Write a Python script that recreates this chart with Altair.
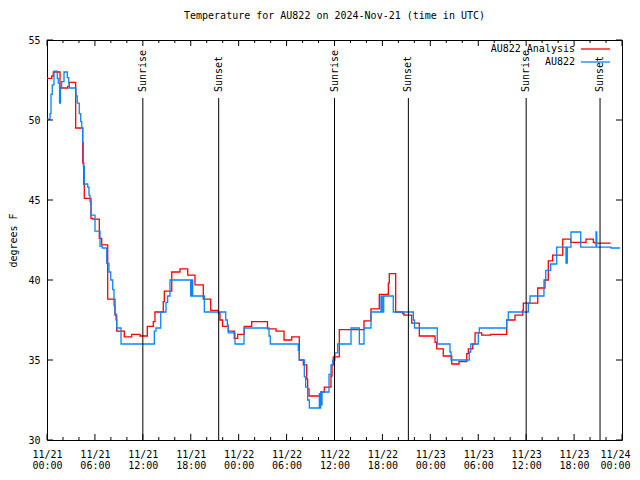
import altair as alt
import pandas as pd

# ---- data (hours since 2024-11-21 00:00 UTC, degrees F) ----
red_hours = [0.0, 0.59, 0.79, 1.63, 2.59, 2.79, 3.59, 4.47, 4.60, 4.67,
             5.51, 5.72, 6.55, 6.85, 7.60, 8.51, 8.73, 9.68, 10.61, 11.65,
             12.56, 13.31, 13.52, 14.56, 14.69, 15.62, 16.65, 17.62, 18.53, 19.57,
             20.50, 21.45, 21.66, 21.99, 22.70, 23.45, 23.88, 24.71, 25.63, 27.61,
             28.68, 29.68, 30.64, 31.59, 32.09, 32.52, 32.64, 32.81, 34.31, 34.72,
             35.56, 35.69, 35.85, 36.60, 39.69, 40.57, 41.61, 42.74, 42.86, 43.66,
             44.54, 44.70, 45.67, 46.62, 48.59, 48.80, 49.62, 50.68, 51.59, 52.56,
             52.76, 53.31, 53.60, 54.43, 55.56, 57.56, 58.60, 59.57, 59.64, 61.45,
             62.36, 62.77, 63.32, 64.58, 65.58, 67.49, 68.41, 68.62, 70.59]
red_temps = [52.6, 52.75, 53.0, 52.0, 52.1, 52.35, 49.5, 47.3, 46.0, 45.1,
             43.85, 43.8, 42.6, 42.2, 38.8, 37.8, 36.8, 36.45, 36.6, 36.5,
             37.1, 37.4, 38.0, 38.65, 39.3, 40.5, 40.7, 40.3, 39.7, 38.8,
             38.1, 37.95, 37.5, 37.1, 36.8, 36.35, 36.6, 37.1, 37.4, 36.95,
             36.8, 36.25, 36.45, 35.0, 34.7, 33.8, 33.2, 32.75, 33.0, 33.3,
             34.0, 34.7, 35.2, 36.9, 37.45, 38.2, 39.1, 39.8, 40.4, 38.0,
             37.9, 37.8, 37.3, 36.5, 36.1, 35.7, 35.25, 34.75, 34.9, 35.4,
             35.7, 36.0, 36.7, 36.55, 36.6, 37.5, 37.8, 38.1, 38.55, 39.5,
             40.0, 41.2, 41.55, 42.55, 42.35, 42.55, 42.35, 42.3, 42.3]

blue_hours = [0.0, 0.38, 0.50, 0.66, 0.88, 1.29, 1.41, 1.57, 1.69, 1.84,
              2.13, 2.54, 2.72, 2.79, 3.63, 3.79, 4.04, 4.22, 4.35, 4.47,
              4.55, 4.67, 5.10, 5.26, 5.38, 5.51, 6.01, 6.64, 6.92, 7.48,
              7.76, 7.98, 8.23, 8.39, 8.51, 8.64, 8.73, 9.27, 13.44, 13.65,
              14.24, 14.90, 15.11, 15.40, 17.99, 18.12, 18.24, 19.70, 22.38, 22.58,
              22.70, 23.54, 24.67, 27.80, 27.96, 31.47, 31.59, 32.22, 32.39, 32.64,
              32.85, 34.10, 34.18, 34.27, 34.35, 34.44, 35.31, 35.56, 35.78, 36.06,
              36.40, 38.07, 39.11, 39.69, 40.57, 41.82, 41.98, 42.16, 43.36, 45.87,
              46.02, 48.87, 50.46, 50.59, 52.88, 53.06, 54.01, 54.13, 57.56, 57.76,
              60.27, 60.48, 62.23, 62.45, 63.07, 63.82, 64.99, 65.15, 65.61, 66.83,
              68.75, 68.84, 70.62, 71.75]
blue_temps = [50.05, 50.4, 51.6, 52.2, 53.05, 52.6, 52.3, 51.05, 52.0, 52.4,
              53.0, 52.65, 52.3, 52.0, 51.5, 51.05, 50.4, 49.9, 49.5, 48.6,
              47.1, 46.0, 45.8, 45.3, 44.9, 44.05, 43.06, 42.1, 42.0, 41.04,
              40.5, 40.0, 39.4, 38.4, 37.9, 37.5, 37.0, 36.0, 36.8, 37.0,
              38.0, 38.6, 39.0, 40.0, 39.0, 40.0, 39.0, 38.0, 37.5, 37.2,
              36.7, 36.0, 37.0, 36.5, 36.0, 35.6, 35.0, 33.95, 33.3, 32.5,
              32.0, 32.9, 32.0, 33.0, 32.2, 33.0, 34.1, 34.7, 35.0, 35.45,
              36.0, 37.0, 36.0, 37.0, 38.0, 39.0, 38.0, 39.0, 38.0, 37.5,
              37.0, 36.0, 35.5, 35.0, 35.5, 36.0, 36.7, 37.0, 37.5, 38.0,
              38.55, 39.0, 40.0, 40.6, 41.0, 42.05, 41.05, 42.05, 43.0, 42.05,
              43.0, 42.05, 42.0, 42.0]

series_names = ["AU822 Analysis", "AU822"]
series_colors = ["#ff0000", "#0a84ff"]

event_hours = [12.0, 21.5, 36.0, 45.25, 60.0, 69.25]
event_labels = ["Sunrise", "Sunset", "Sunrise", "Sunset", "Sunrise", "Sunset"]

x_major = [0, 6, 12, 18, 24, 30, 36, 42, 48, 54, 60, 66, 72]
x_minor = [h for h in range(0, 73, 2) if h % 6 != 0]
y_ticks = [30, 35, 40, 45, 50, 55]
day_labels = ["11/21", "11/22", "11/23", "11/24"]
time_labels = ["00:00", "06:00", "12:00", "18:00"]

title_text = "Temperature for AU822 on 2024-Nov-21 (time in UTC)"
y_title = "degrees F"

# ---- layout ----
W, H = 575, 400
FONT = "DejaVu Sans Mono"

xscale = alt.Scale(domain=[0, 72], nice=False, zero=False)
yscale = alt.Scale(domain=[30, 55], nice=False, zero=False)

days_js = "[" + ",".join("'%s'" % d for d in day_labels) + "]"
times_js = "[" + ",".join("'%s'" % t for t in time_labels) + "]"
label_expr = "[%s[floor(datum.value/24)], %s[floor((datum.value%%24)/6)]]" % (days_js, times_js)

X_AX = alt.Axis(values=x_major, labelExpr=label_expr, ticks=False, domain=False,
                grid=False, labelFont=FONT, labelFontSize=10, labelColor="black",
                labelPadding=9, labelLineHeight=11, labelFlush=False,
                labelOverlap=False, title=None,
                labelOffset={"condition": {"test": "datum.value >= %d" % x_major[-1],
                                           "value": -7}, "value": 0})
Y_AX = alt.Axis(values=y_ticks, ticks=False, domain=False, grid=False,
                labelFont=FONT, labelFontSize=10, labelColor="black",
                labelPadding=7, title=y_title, titleFont=FONT, titleFontSize=10,
                titleFontWeight="normal", titleColor="black", titlePadding=9)


def X(field="h"):
    return alt.X(field + ":Q", scale=xscale, axis=X_AX)


def Y(field="t"):
    return alt.Y(field + ":Q", scale=yscale, axis=Y_AX)


red_df = pd.DataFrame({"h": red_hours, "t": red_temps})
blue_df = pd.DataFrame({"h": blue_hours, "t": blue_temps})

red_line = alt.Chart(red_df).mark_line(
    interpolate="step-after", color=series_colors[0], strokeWidth=1.3
).encode(x=X(), y=Y())

blue_line = alt.Chart(blue_df).mark_line(
    interpolate="step-after", color=series_colors[1], strokeWidth=1.3
).encode(x=X(), y=Y())

ev_df = pd.DataFrame({"h": event_hours, "label": event_labels})
ev_rules = alt.Chart(ev_df).mark_rule(color="black", strokeWidth=1).encode(
    x=X(), y=alt.value(58), y2=alt.value(H),
)
ev_text = alt.Chart(ev_df).mark_text(
    angle=270, align="left", baseline="middle", font=FONT, fontSize=10, color="black"
).encode(x=X(), y=alt.value(52), text="label:N")

# inward ticks (gnuplot style)
maj_df = pd.DataFrame({"h": x_major})
min_df = pd.DataFrame({"h": x_minor})
yt_df = pd.DataFrame({"t": y_ticks})
tick_layers = []
for df, ln in [(maj_df, 6), (min_df, 3)]:
    tick_layers.append(alt.Chart(df).mark_rule(color="black").encode(
        x=X(), y=alt.value(H), y2=alt.value(H - ln)))
    tick_layers.append(alt.Chart(df).mark_rule(color="black").encode(
        x=X(), y=alt.value(0), y2=alt.value(ln)))
tick_layers.append(alt.Chart(yt_df).mark_rule(color="black").encode(
    y=Y(), x=alt.value(0), x2=alt.value(6)))
tick_layers.append(alt.Chart(yt_df).mark_rule(color="black").encode(
    y=Y(), x=alt.value(W), x2=alt.value(W - 6)))

# legend (gnuplot style: label then line sample)
legend_layers = []
for i, (name, col) in enumerate(zip(series_names, series_colors)):
    ly = 9 + 13 * i
    ldf = pd.DataFrame({"name": [name]})
    legend_layers.append(alt.Chart(ldf).mark_text(
        align="right", baseline="middle", font=FONT, fontSize=10, color="black"
    ).encode(x=alt.value(528), y=alt.value(ly), text="name:N"))
    legend_layers.append(alt.Chart(ldf).mark_rule(color=col, strokeWidth=1.3).encode(
        x=alt.value(534), x2=alt.value(563), y=alt.value(ly)))

chart = alt.layer(
    red_line, blue_line, ev_rules, ev_text, *tick_layers, *legend_layers
).properties(
    width=W, height=H,
    title=alt.TitleParams(title_text, font=FONT, fontSize=10, fontWeight="normal",
                          color="black", anchor="middle", offset=14),
    autosize=alt.AutoSizeParams(type="none"),
    padding={"left": 39, "top": 32, "right": 10, "bottom": 32},
    background="white",
).configure_view(stroke="black", strokeWidth=1)

chart.save("out.html", embed_options={"renderer": "svg", "actions": False})
